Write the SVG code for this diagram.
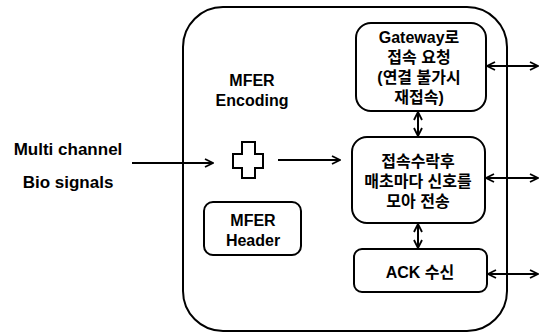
<svg xmlns="http://www.w3.org/2000/svg" width="539" height="333" viewBox="0 0 539 333">
<style>
.box{fill:#fff;stroke:#000;stroke-width:2}
.ln{fill:none;stroke:#000;stroke-width:2}
text{font-family:"Liberation Sans","Noto Sans CJK KR",sans-serif;font-weight:bold;font-size:16px;fill:#000;text-anchor:middle}
.lg{font-size:17px}
</style>
<defs>
<marker id="ah" viewBox="0 0 10 10" refX="9" refY="5" markerWidth="10" markerHeight="10" markerUnits="userSpaceOnUse" orient="auto-start-reverse">
<path d="M1,1 L9,5 L1,9" fill="none" stroke="#000" stroke-width="1.8"/>
</marker>
</defs>
<g id="container">
<rect class="box" x="183" y="7" width="324" height="324" rx="40"/>
</g>
<g id="input-label">
<text class="lg" x="68" y="155">Multi channel</text>
<text class="lg" x="68" y="188">Bio signals</text>
</g>
<g id="mfer-encoding">
<text x="252" y="86">MFER</text>
<text x="252" y="106">Encoding</text>
<path class="box" d="M242,142 H255 V154 H263 V168 H255 V178 H242 V168 H233 V154 H242 Z"/>
</g>
<g id="mfer-header">
<rect class="box" x="204" y="202" width="97" height="53" rx="9"/>
<text x="253" y="226">MFER</text>
<text x="253" y="246">Header</text>
</g>
<g id="gateway">
<rect class="box" x="356" y="23" width="130" height="88" rx="15"/>
<text x="419" y="43">Gateway로</text>
<text x="419" y="63">접속 요청</text>
<text x="419" y="83">(연결 불가시</text>
<text x="419" y="103">재접속)</text>
</g>
<g id="transmit">
<rect class="box" x="352" y="137" width="133" height="86" rx="15"/>
<text x="418" y="167">접속수락후</text>
<text x="418" y="187">매초마다 신호를</text>
<text x="418" y="207">모아 전송</text>
</g>
<g id="ack">
<rect class="box" x="354" y="249" width="133" height="43" rx="8"/>
<text x="420" y="278">ACK 수신</text>
</g>
<g id="connectors">
<line class="ln" x1="132" y1="163" x2="213" y2="163" marker-end="url(#ah)"/>
<line class="ln" x1="278" y1="160" x2="340" y2="160" marker-end="url(#ah)"/>
<line class="ln" x1="418" y1="112" x2="418" y2="136" marker-start="url(#ah)" marker-end="url(#ah)"/>
<line class="ln" x1="418" y1="224" x2="418" y2="248" marker-start="url(#ah)" marker-end="url(#ah)"/>
<line class="ln" x1="487" y1="66" x2="538" y2="66" marker-start="url(#ah)" marker-end="url(#ah)"/>
<line class="ln" x1="486" y1="178" x2="538" y2="178" marker-start="url(#ah)" marker-end="url(#ah)"/>
<line class="ln" x1="488" y1="274" x2="538" y2="274" marker-start="url(#ah)" marker-end="url(#ah)"/>
</g>
</svg>
